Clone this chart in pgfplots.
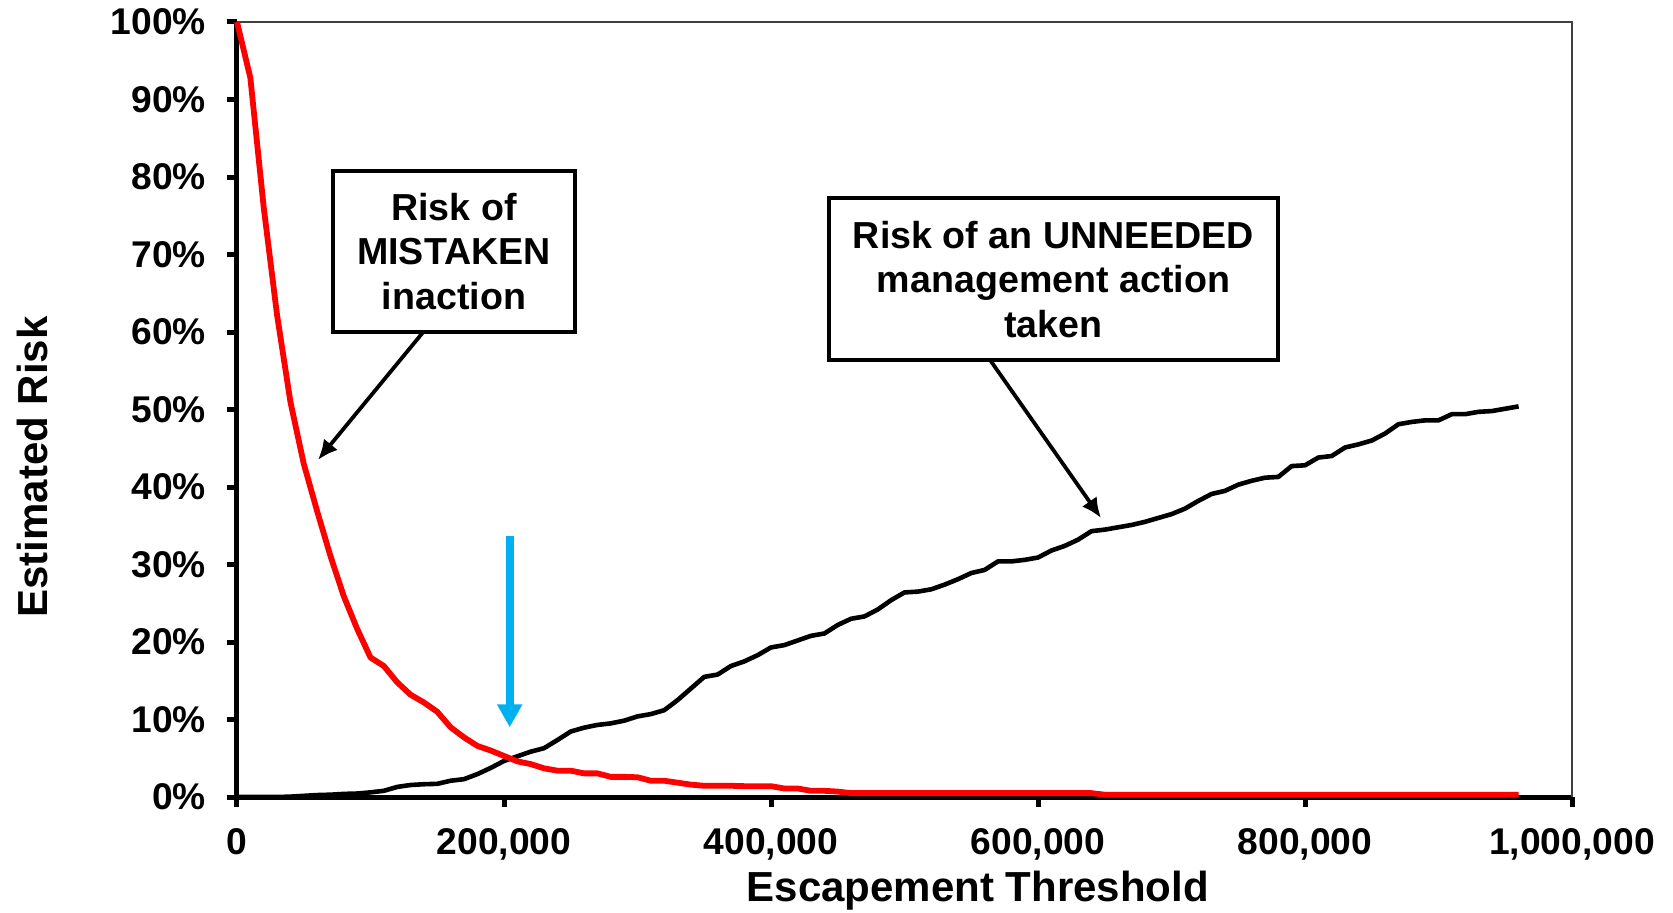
\documentclass[border=0pt]{standalone}
\usepackage{pgfplots}
\pgfplotsset{compat=1.18}
\usepackage{fontspec}
\setmainfont{Liberation Sans}
\usetikzlibrary{arrows.meta}
\definecolor{myblue}{RGB}{0,176,240}
\definecolor{myred}{RGB}{255,0,0}
\begin{document}
\begin{tikzpicture}
\useasboundingbox (-118.5pt,-57.5pt) rectangle (718pt,398.5pt);
\begin{axis}[
  at={(0,0)}, anchor=south west,
  scale only axis, width=667.5pt, height=387.5pt,
  xmin=0, xmax=1000000, ymin=0, ymax=100,
  axis lines*=left,
  axis line style={line width=2.5pt, -},
  xtick={0,200000,400000,600000,800000,1000000},
  xticklabels={0,{200,000},{400,000},{600,000},{800,000},{1,000,000}},
  ytick={0,10,20,30,40,50,60,70,80,90,100},
  yticklabels={0\%,10\%,20\%,30\%,40\%,50\%,60\%,70\%,80\%,90\%,100\%},
  scaled x ticks=false,
  tick align=outside,
  major tick length=5pt,
  tick style={line width=2.5pt, black},
  ticklabel style={font=\bfseries\fontsize{18.6}{20}\selectfont},
  xticklabel style={yshift=-7pt},
  yticklabel style={xshift=-7pt},
  xlabel={Escapement Threshold}, ylabel={Estimated Risk},
  label style={font=\bfseries\fontsize{21}{24}\selectfont},
  xlabel style={at={(axis description cs:0.555,-0.121)},anchor=center},
  ylabel style={at={(axis description cs:-0.1535,0.426)},anchor=center},
  clip=false,
]
\draw[line width=0.7pt, black!75] (rel axis cs:0,1) -- (rel axis cs:1,1) -- (rel axis cs:1,0);

\addplot[black, line width=2.3pt, line join=round] coordinates {
(0,0) (10000,0) (20000,0) (30000,0) (40000,0.05) (50000,0.15) (60000,0.25) (70000,0.3)
(80000,0.4) (90000,0.45) (100000,0.6) (110000,0.8) (120000,1.3) (130000,1.55)
(140000,1.65) (150000,1.7) (160000,2.1) (170000,2.3) (180000,2.95) (190000,3.75)
(200000,4.65) (210000,5.25) (220000,5.85) (230000,6.3) (240000,7.35) (250000,8.45)
(260000,8.95) (270000,9.3) (280000,9.5) (290000,9.85) (300000,10.4) (310000,10.7)
(320000,11.2) (330000,12.5) (340000,14.0) (350000,15.5) (360000,15.8) (370000,16.9)
(380000,17.5) (390000,18.3) (400000,19.3) (410000,19.6) (420000,20.2) (430000,20.8)
(440000,21.1) (450000,22.2) (460000,23.0) (470000,23.3) (480000,24.2) (490000,25.4)
(500000,26.4) (510000,26.5) (520000,26.8) (530000,27.4) (540000,28.1) (550000,28.9)
(560000,29.3) (570000,30.4) (580000,30.4) (590000,30.6) (600000,30.9) (610000,31.8)
(620000,32.4) (630000,33.2) (640000,34.3) (650000,34.5) (660000,34.8) (670000,35.1)
(680000,35.5) (690000,36.0) (700000,36.5) (710000,37.2) (720000,38.2) (730000,39.1)
(740000,39.5) (750000,40.3) (760000,40.8) (770000,41.2) (780000,41.3) (790000,42.7)
(800000,42.8) (810000,43.8) (820000,44.0) (830000,45.1) (840000,45.5) (850000,46.0)
(860000,46.9) (870000,48.1) (880000,48.4) (890000,48.6) (900000,48.6) (910000,49.4)
(920000,49.4) (930000,49.7) (940000,49.8) (950000,50.1) (960000,50.4)
};

\addplot[myred, line width=2.9pt, line join=round] coordinates {
(0,100) (10000,92.8) (20000,76.1) (30000,62.2) (40000,51.0) (50000,43.0) (60000,36.9)
(70000,31.1) (80000,25.9) (90000,21.7) (100000,18.0) (110000,16.9) (120000,14.8)
(130000,13.2) (140000,12.2) (150000,11.0) (160000,9.0) (170000,7.7) (180000,6.6)
(190000,6.0) (200000,5.3) (210000,4.6) (220000,4.25) (230000,3.7) (240000,3.4)
(250000,3.4) (260000,3.05) (270000,3.05) (280000,2.6) (290000,2.6) (300000,2.55)
(310000,2.1) (320000,2.1) (330000,1.85) (340000,1.6) (350000,1.45) (360000,1.45)
(370000,1.45) (380000,1.4) (390000,1.4) (400000,1.4) (410000,1.1) (420000,1.1)
(430000,0.8) (440000,0.8) (450000,0.7) (460000,0.5) (500000,0.5) (550000,0.5)
(600000,0.5) (640000,0.5) (650000,0.3) (700000,0.3) (800000,0.3) (900000,0.3) (960000,0.3)
};

\draw[line width=1.9pt, -{Latex[length=10pt,width=9pt]}] (axis cs:143820,60.9) -- (axis cs:60674,43.5);
\draw[line width=1.9pt, -{Latex[length=10pt,width=9pt]}] (axis cs:564045,56.4) -- (axis cs:647191,36.0);

\node[draw, line width=2pt, fill=white, minimum width=121pt, minimum height=80.5pt, align=center, inner sep=0pt,
  font=\bfseries\fontsize{18.8}{22.25}\selectfont] at (axis cs:162547,70.4) {Risk of\\MISTAKEN\\inaction};
\node[draw, line width=2pt, fill=white, minimum width=224.5pt, minimum height=81pt, align=center, inner sep=0pt,
  font=\bfseries\fontsize{18.8}{22.25}\selectfont] at (axis cs:611610,66.8) {Risk of an UNNEEDED\\management action\\taken};

\draw[myblue, line width=4pt, -{Triangle[length=11.5pt,width=12pt]}] (axis cs:204270,33.7) -- (axis cs:204270,9.0);
\end{axis}
\end{tikzpicture}
\end{document}
